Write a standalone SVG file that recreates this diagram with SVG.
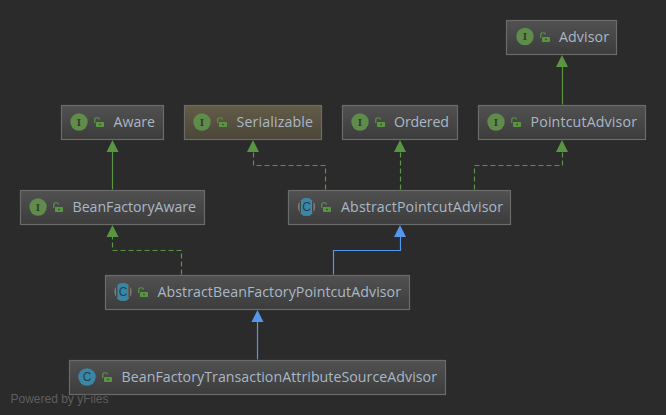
<svg xmlns="http://www.w3.org/2000/svg" width="666" height="415" viewBox="0 0 666 415">
<style>
.box{stroke:#6b6b6b;stroke-width:1.2}
.lbl{font-family:"Open Sans","Noto Sans","Liberation Sans",sans-serif;font-size:14.2px;fill:#a9b7c6}
.ig{fill:#5f8c4a}
.it{font-family:"Liberation Serif",serif;font-size:11px;font-weight:700;fill:#2f3d2a;text-anchor:middle}
.ct{font-family:"Liberation Sans",sans-serif;font-size:12px;fill:#24424f;text-anchor:middle}
.edge{fill:none;stroke-width:1.2}
.g{stroke:#5a9544}.b{stroke:#5597ea}
.d{stroke-dasharray:5 3}
.ag{fill:#5a9544}.ab{fill:#5597ea}
.wm{font-family:"Liberation Sans",sans-serif;font-size:12px;fill:#5e5e5e}
</style>
<defs>
<linearGradient id="n" x1="0" y1="0" x2="0" y2="1"><stop offset="0" stop-color="#515151"/><stop offset="1" stop-color="#3c3c3c"/></linearGradient>
<linearGradient id="s" x1="0" y1="0" x2="0" y2="1"><stop offset="0" stop-color="#655c49"/><stop offset="1" stop-color="#4b4639"/></linearGradient>
<path id="tip" d="M-6 12L0 0L6 12Z"/>
<g id="lock"><path d="M.8 6V2.400C.8 .2 5.400 .2 5.400 2.400" fill="none" stroke="#5a9544" stroke-width="1.200"/><rect x="2" y="5" width="8" height="5" rx=".7" fill="#5a9544"/><rect x="5.300" y="6.800" width="1.400" height="1.400" fill="#2f3d2a"/></g>
<g id="ii"><circle r="8.700" class="ig"/><text y="3.800" class="it">I</text></g>
<g id="cc"><circle r="8.700" fill="#3a87a5"/><text y="4.200" class="ct">C</text></g>
<g id="ca"><circle r="8.700" fill="#7a7a7a"/><rect x="-5" y="-8.700" width="10" height="17.400" rx="3" fill="#3a87a5"/><rect x="-6.800" y="-6" width="1.200" height="12" fill="#3d3d3d"/><rect x="5.600" y="-6" width="1.200" height="12" fill="#3d3d3d"/><text y="4.200" class="ct">C</text></g>
</defs>
<rect width="666" height="415" fill="#2b2b2b"/>
<g id="connectors">
<path class="edge g" d="M562.500 104.500V66"/><use href="#tip" class="ag" x="562" y="55"/>
<path class="edge g" d="M112.500 189.500V151"/><use href="#tip" class="ag" x="112.500" y="140"/>
<path class="edge g d" d="M325.500 189.500V165.500H253.500V151"/><use href="#tip" class="ag" x="253" y="140"/>
<path class="edge g d" d="M400.500 189.500V151"/><use href="#tip" class="ag" x="400" y="140"/>
<path class="edge g d" d="M474.500 189.500V165.500H562.500V151"/><use href="#tip" class="ag" x="562" y="140"/>
<path class="edge g d" d="M181.500 274.500V250.500H112.500V236"/><use href="#tip" class="ag" x="112.500" y="225"/>
<path class="edge b" d="M333.500 274.500V250.500H400.500V236"/><use href="#tip" class="ab" x="400" y="225"/>
<path class="edge b" d="M257.500 359.500V321"/><use href="#tip" class="ab" x="257.500" y="310"/>
</g>
<g id="node-advisor"><rect class="box" x="506.500" y="20.500" width="110" height="34" fill="url(#n)"/><use href="#ii" x="525" y="36.500"/><use href="#lock" x="540" y="32"/><text class="lbl" x="559" y="42" textLength="50">Advisor</text></g>
<g id="node-aware"><rect class="box" x="61.500" y="105.500" width="102" height="34" fill="url(#n)"/><use href="#ii" x="79" y="122"/><use href="#lock" x="94" y="117"/><text class="lbl" x="113.500" y="127" textLength="41.500">Aware</text></g>
<g id="node-serializable"><rect class="box" x="184.500" y="105.500" width="137" height="34" fill="url(#s)"/><use href="#ii" x="202" y="122"/><use href="#lock" x="217" y="117"/><text class="lbl" x="236.500" y="127" textLength="76.500">Serializable</text></g>
<g id="node-ordered"><rect class="box" x="342.500" y="105.500" width="115" height="34" fill="url(#n)"/><use href="#ii" x="360" y="122"/><use href="#lock" x="375" y="117"/><text class="lbl" x="394" y="127" textLength="55">Ordered</text></g>
<g id="node-pointcutadvisor"><rect class="box" x="478.500" y="105.500" width="167" height="34" fill="url(#n)"/><use href="#ii" x="496" y="122"/><use href="#lock" x="511" y="117"/><text class="lbl" x="530.500" y="127" textLength="106.500">PointcutAdvisor</text></g>
<g id="node-beanfactoryaware"><rect class="box" x="20.500" y="190.500" width="184" height="34" fill="url(#n)"/><use href="#ii" x="38" y="207"/><use href="#lock" x="53" y="202"/><text class="lbl" x="72.500" y="212" textLength="123.500">BeanFactoryAware</text></g>
<g id="node-abstractpointcutadvisor"><rect class="box" x="288.500" y="190.500" width="222" height="34" fill="url(#n)"/><use href="#ca" x="306.500" y="207"/><use href="#lock" x="321" y="202"/><text class="lbl" x="341" y="212" textLength="162">AbstractPointcutAdvisor</text></g>
<g id="node-abstractbeanfactorypointcutadvisor"><rect class="box" x="105.500" y="275.500" width="304" height="34" fill="url(#n)"/><use href="#ca" x="123" y="292"/><use href="#lock" x="138" y="287"/><text class="lbl" x="157.500" y="297" textLength="243.500">AbstractBeanFactoryPointcutAdvisor</text></g>
<g id="node-beanfactorytransactionattributesourceadvisor"><rect class="box" x="69.500" y="360.500" width="376" height="34" fill="url(#n)"/><use href="#cc" x="87" y="377"/><use href="#lock" x="102" y="372"/><text class="lbl" x="121.500" y="382" textLength="315.500">BeanFactoryTransactionAttributeSourceAdvisor</text></g>
<text class="wm" x="10.500" y="403" textLength="98">Powered by yFiles</text>
</svg>
